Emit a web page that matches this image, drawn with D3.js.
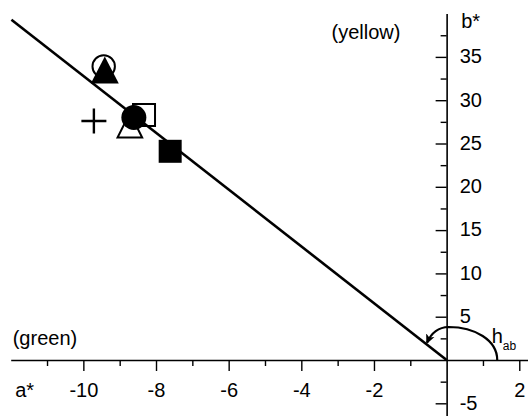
<!DOCTYPE html>
<html>
<head>
<meta charset="utf-8">
<script src="https://cdn.jsdelivr.net/npm/d3@7"></script>
<style>
  html, body { margin: 0; padding: 0; background: #fff; }
  svg { display: block; font-family: "Liberation Sans", Arial, Helvetica, sans-serif; }
</style>
</head>
<body>
<svg id="chart" width="528" height="416"></svg>
<script>
// CIELAB a*/b* plane: sample chromaticities and the hue line through the origin
const symbols = ["circleOpen", "triangleFilled", "plus", "squareOpen", "triangleOpen", "circleFilled", "squareFilled"];
const aValues = [-9.44, -9.41, -9.71, -8.33, -8.72, -8.61, -7.61];
const bValues = [33.9, 33.5, 27.6, 28.3, 27.1, 28.0, 24.1];

// hue line end point (from the origin up to the left edge)
const hueLineA = [0, -11.98];
const hueLineB = [0, 39.3];

const xMajorTicks = [-10, -8, -6, -4, -2, 2];
const xMinorTicks = [-11, -9, -7, -5, -3, -1, 1];
const yMajorTicks = [-5, 5, 10, 15, 20, 25, 30, 35];
const yMinorTicks = [-2.5, 2.5, 7.5, 12.5, 17.5, 22.5, 27.5, 32.5, 37.5];

const svg = d3.select("#chart");

const x = d3.scaleLinear().domain([-12, 2.24]).range([10.7, 528]);
const y = d3.scaleLinear().domain([-6.5, 40]).range([416.3, 13.6]);

const ox = x(0), oy = y(0);
const plainNumber = d => String(d);

// ---- axes (crossing at the origin) ----
function styleAxis(g) {
  g.selectAll("path.domain").attr("stroke", "#000").attr("stroke-width", 1.6);
  g.selectAll(".tick line").attr("stroke", "#000").attr("stroke-width", 1.4);
  g.selectAll(".tick text").attr("fill", "#000").attr("font-size", 20)
    .attr("font-family", "'Liberation Sans', Arial, sans-serif");
}

svg.append("g").attr("transform", `translate(0,${oy})`)
  .call(d3.axisBottom(x).tickValues(xMinorTicks).tickSizeInner(6).tickSizeOuter(0).tickFormat(""))
  .call(styleAxis);
svg.append("g").attr("transform", `translate(0,${oy})`)
  .call(d3.axisBottom(x).tickValues(xMajorTicks).tickSizeInner(11).tickSizeOuter(0).tickPadding(11.5).tickFormat(plainNumber))
  .call(styleAxis)
  .call(g => g.select("path.domain").remove());

svg.append("g").attr("transform", `translate(${ox},0)`)
  .call(d3.axisRight(y).tickValues(yMinorTicks).tickSizeInner(-6).tickSizeOuter(0).tickFormat(""))
  .call(styleAxis);
svg.append("g").attr("transform", `translate(${ox},0)`)
  .call(d3.axisRight(y).tickValues(yMajorTicks).tickSizeInner(-11).tickSizeOuter(0).tickPadding(13).tickFormat(plainNumber))
  .call(styleAxis)
  .call(g => g.select("path.domain").remove())
  .call(g => g.selectAll(".tick text").attr("dy", "0.29em"));

// axis titles and side labels
const label = (tx, ty, txt, size) => svg.append("text")
  .attr("x", tx).attr("y", ty).attr("font-size", size || 20).attr("fill", "#000").text(txt);

label(x(-12) + 4.5, y(-6.5) - 19.8, "a*");
label(ox + 14.5, y(40) + 14.7, "b*");
label(x(-12) + 2, oy - 15, "(green)");
label(x(-3.17), y(40) + 25.6, "(yellow)");

// hue angle label h_ab
const hab = svg.append("text").attr("x", ox + 45).attr("y", oy - 17)
  .attr("font-size", 20).attr("fill", "#000");
hab.append("tspan").text("h");
hab.append("tspan").attr("font-size", 12).attr("dy", 7).text("ab");

// ---- hue line ----
svg.append("line")
  .attr("x1", x(hueLineA[0])).attr("y1", y(hueLineB[0]))
  .attr("x2", x(hueLineA[1])).attr("y2", y(hueLineB[1]))
  .attr("stroke", "#000").attr("stroke-width", 2.6);

// ---- hue angle arc with arrow ----
const defs = svg.append("defs");
defs.append("marker").attr("id", "arrow")
  .attr("viewBox", "0 0 10 10").attr("refX", 8).attr("refY", 5)
  .attr("markerWidth", 10).attr("markerHeight", 10)
  .attr("markerUnits", "userSpaceOnUse").attr("orient", "auto")
  .append("path").attr("d", "M0,0.5 L10,5 L0,9.5 L2.5,5 Z").attr("fill", "#000");

const arc = d3.path();
arc.moveTo(ox + 50.6, oy);
arc.bezierCurveTo(ox + 50.6, oy - 20, ox + 28, oy - 33, ox + 2, oy - 33);
arc.quadraticCurveTo(ox - 13, oy - 32.5, ox - 19.5, oy - 17.5);
svg.append("path").attr("d", arc.toString())
  .attr("fill", "none").attr("stroke", "#000").attr("stroke-width", 2.2)
  .attr("marker-end", "url(#arrow)");

// ---- sample markers ----
function markerPath(kind) {
  const p = d3.path();
  if (kind.startsWith("circle")) {
    const r = kind === "circleFilled" ? 12.5 : 11.2;
    p.arc(0, 0, r, 0, 2 * Math.PI);
  } else if (kind.startsWith("square")) {
    const s = kind === "squareFilled" ? 11.5 : 11;
    p.rect(-s, -s, 2 * s, 2 * s);
  } else if (kind.startsWith("triangle")) {
    const w = kind === "triangleFilled" ? 14 : 12.3;
    const h = kind === "triangleFilled" ? 13.5 : 12.3;
    p.moveTo(0, -h); p.lineTo(w, h); p.lineTo(-w, h); p.closePath();
  } else if (kind === "plus") {
    p.moveTo(-12.5, 0); p.lineTo(12.5, 0);
    p.moveTo(0, -12.5); p.lineTo(0, 12.5);
  }
  return p.toString();
}

svg.append("g").selectAll("path")
  .data(symbols.map((s, i) => ({ s, a: aValues[i], b: bValues[i] })))
  .join("path")
  .attr("transform", d => `translate(${x(d.a)},${y(d.b)})`)
  .attr("d", d => markerPath(d.s))
  .attr("fill", d => d.s.endsWith("Filled") ? "#000" : "none")
  .attr("stroke", d => d.s.endsWith("Filled") ? "none" : "#000")
  .attr("stroke-width", d => d.s === "plus" ? 2.4 : 2)
  .attr("stroke-linejoin", "miter");
</script>
</body>
</html>
